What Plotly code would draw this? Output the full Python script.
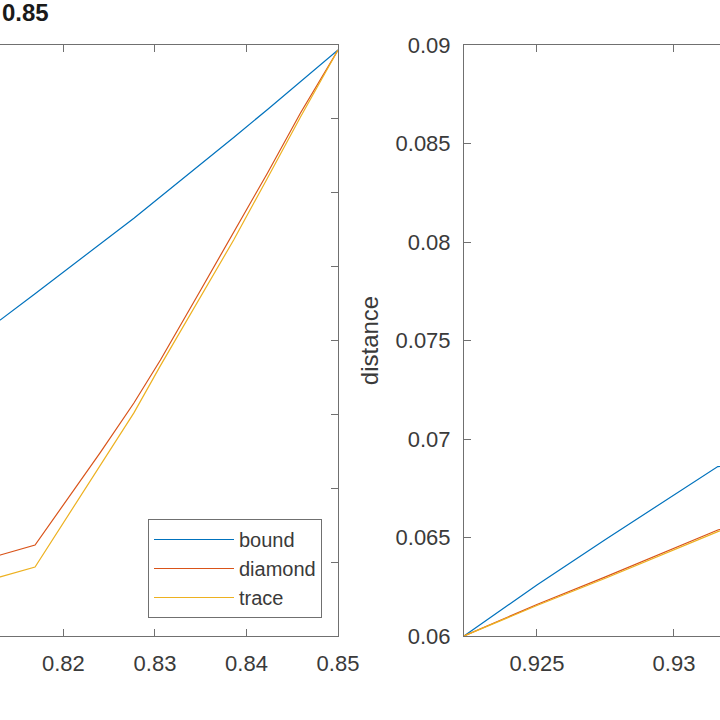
import plotly.graph_objects as go

# 左图数据 (x 为参数, y 为 distance)
x_left = [0.810, 0.8131, 0.8169, 0.8204, 0.8240, 0.8277, 0.8306, 0.8350, 0.8386, 0.8423, 0.8459, 0.8500]
bound_left = [0.0712, 0.07139, 0.07316, 0.07481, 0.07653, 0.07828, 0.07973, 0.08191, 0.08374, 0.08564, 0.08752, 0.08966]
diamond_left = [0.0550, 0.05548, 0.05616, 0.0592, 0.06239, 0.06577, 0.06868, 0.07342, 0.07728, 0.08134, 0.0854, 0.08966]
trace_left = [0.0536, 0.0540, 0.05467, 0.05805, 0.06144, 0.0651, 0.0683, 0.07294, 0.0768, 0.0810, 0.08513, 0.08966]

# 右图数据
x_right = [0.92234, 0.925, 0.9275, 0.930, 0.9316, 0.933]
bound_right = [0.0600, 0.06259, 0.0649, 0.06716, 0.0686, 0.0687]
diamond_right = [0.0600, 0.0616, 0.0630, 0.06447, 0.06538, 0.0660]
trace_right = [0.0600, 0.06155, 0.06293, 0.0644, 0.0653, 0.0659]

# 刻度
xticks_left = [0.82, 0.83, 0.84, 0.85]
xtick_text_left = ['0.82', '0.83', '0.84', '0.85']
yticks_left = [0.05, 0.055, 0.06, 0.065, 0.07, 0.075, 0.08, 0.085, 0.09]
xticks_right = [0.925, 0.93]
xtick_text_right = ['0.925', '0.93']
yticks_right = [0.06, 0.065, 0.07, 0.075, 0.08, 0.085, 0.09]
ytick_text_right = ['0.06', '0.065', '0.07', '0.075', '0.08', '0.085', '0.09']

names = ['bound', 'diamond', 'trace']
colors = ['#0072BD', '#D95319', '#EDB120']

fig = go.Figure()

for name, ys, c in zip(names, [bound_left, diamond_left, trace_left], colors):
    fig.add_trace(go.Scatter(x=x_left, y=ys, mode='lines', name=name,
                             line=dict(color=c, width=1.2), xaxis='x', yaxis='y'))

for name, ys, c in zip(names, [bound_right, diamond_right, trace_right], colors):
    fig.add_trace(go.Scatter(x=x_right, y=ys, mode='lines', name=name, showlegend=False,
                             line=dict(color=c, width=1.2), xaxis='x2', yaxis='y2'))

axis_style = dict(showgrid=False, zeroline=False, showline=True, linecolor='#707070', linewidth=1,
                  ticks='inside', ticklen=7, tickcolor='#707070', automargin=False,
                  tickfont=dict(family='Liberation Sans, Arial', size=22, color='#3a3a3a'))

fig.update_layout(
    width=720, height=720,
    margin=dict(l=0, r=0, t=45, b=84),
    paper_bgcolor='white', plot_bgcolor='white',
    xaxis=dict(domain=[0, 338 / 720], range=[0.81307, 0.85], tickvals=xticks_left,
               ticktext=xtick_text_left, mirror='ticks', anchor='y', ticklabelstandoff=8, **axis_style),
    yaxis=dict(range=[0.05, 0.09], tickvals=yticks_left, side='right', showticklabels=False,
               anchor='x', **axis_style),
    xaxis2=dict(domain=[464 / 720, 1], range=[0.92234, 0.93168], tickvals=xticks_right,
                ticktext=xtick_text_right, mirror='ticks', anchor='y2', ticklabelstandoff=8, **axis_style),
    yaxis2=dict(range=[0.06, 0.09], tickvals=yticks_right, ticktext=ytick_text_right,
                anchor='x2', ticklabelstandoff=8,
                title=dict(text='distance', standoff=10,
                           font=dict(family='Liberation Sans, Arial', size=24, color='#3a3a3a')),
                **axis_style),
    legend=dict(x=322 / 720, y=(636 - 618) / 591, xanchor='right', yanchor='bottom',
                bgcolor='white', bordercolor='#707070', borderwidth=1, itemwidth=80,
                font=dict(family='Liberation Sans, Arial', size=20, color='#3a3a3a')),
    annotations=[dict(text='<b>0.85</b>', xref='paper', yref='paper', x=0, y=(636 - 13) / 591,
                      xanchor='left', yanchor='middle', showarrow=False,
                      font=dict(family='Liberation Sans, Arial', size=24, color='#1a1a1a'))],
)

fig.write_html('out.html', config={'displayModeBar': False},
               post_script="document.body.style.margin='0';")
